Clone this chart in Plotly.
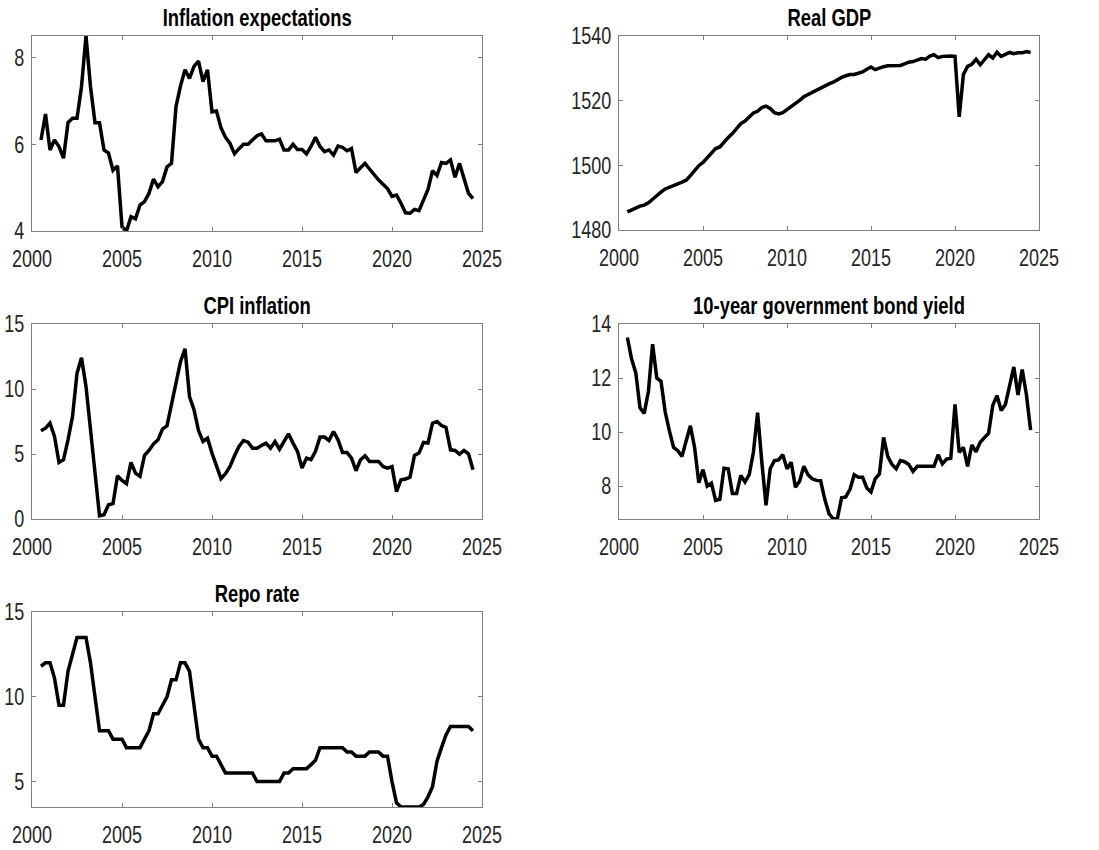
import plotly.graph_objects as go

# Quarterly observations, 2000Q3 .. 2024Q3
start_year = 2000.5
n_quarters = 97

infl_expectations = [
    6.1, 6.7, 5.87, 6.1, 5.95, 5.68, 6.5, 6.6, 6.6, 7.33,
    8.5, 7.33, 6.5, 6.5, 5.87, 5.8, 5.4, 5.5, 4.1, 4.0,
    4.33, 4.28, 4.6, 4.68, 4.87, 5.2, 5.02, 5.14, 5.48, 5.56,
    6.87, 7.35, 7.72, 7.52, 7.8, 7.92, 7.45, 7.72, 6.75, 6.77,
    6.38, 6.16, 6.02, 5.78, 5.9, 6.0, 6.0, 6.1, 6.2, 6.24,
    6.08, 6.08, 6.08, 6.12, 5.87, 5.87, 6.0, 5.88, 5.88, 5.78,
    5.95, 6.16, 5.95, 5.83, 5.87, 5.75, 5.96, 5.93, 5.85, 5.9,
    5.35, 5.46, 5.56, 5.43, 5.3, 5.18, 5.08, 4.98, 4.8, 4.83,
    4.64, 4.42, 4.41, 4.5, 4.47, 4.72, 4.96, 5.39, 5.28, 5.58,
    5.56, 5.64, 5.24, 5.56, 5.18, 4.87, 4.75,
]

real_gdp = [
    1485.6, 1486.3, 1487.0, 1487.4, 1487.7, 1488.4, 1489.5, 1490.7, 1491.7, 1492.7,
    1493.3, 1493.8, 1494.3, 1494.8, 1495.4, 1496.8, 1498.3, 1499.9, 1500.9, 1502.3,
    1504.0, 1505.2, 1505.7, 1507.3, 1508.6, 1509.8, 1511.4, 1512.9, 1513.7, 1515.0,
    1516.2, 1516.7, 1517.9, 1518.3, 1517.6, 1516.3, 1515.9, 1516.3, 1517.2, 1518.3,
    1519.1, 1520.1, 1521.2, 1521.9, 1522.4, 1523.0, 1523.7, 1524.7, 1525.2, 1525.7,
    1526.5, 1527.2, 1527.7, 1528.1, 1528.1, 1528.4, 1528.9, 1529.7, 1530.4, 1529.6,
    1530.1, 1530.5, 1530.8, 1530.9, 1530.9, 1530.9, 1531.4, 1531.9, 1532.1, 1532.6,
    1533.0, 1532.8, 1533.8, 1534.2, 1533.3, 1533.7, 1533.8, 1533.8, 1533.7, 1515.0,
    1528.1, 1530.6, 1531.2, 1532.8, 1531.1, 1532.6, 1534.2, 1533.2, 1535.0, 1533.7,
    1534.2, 1534.9, 1534.5, 1534.8, 1534.8, 1535.2, 1534.9,
]

cpi_inflation = [
    6.78, 6.99, 7.37, 6.35, 4.35, 4.56, 6.09, 7.88, 11.2, 12.4,
    10.2, 6.7, 3.4, 0.25, 0.33, 1.1, 1.18, 3.33, 2.97, 2.71,
    4.35, 3.53, 3.28, 4.89, 5.27, 5.78, 6.09, 6.91, 7.17, 8.9,
    10.4, 12.1, 13.1, 9.42, 8.4, 6.8, 5.96, 6.22, 5.07, 4.1,
    3.1, 3.48, 4.04, 4.86, 5.58, 6.04, 5.91, 5.45, 5.45, 5.66,
    5.84, 5.45, 5.96, 5.37, 5.96, 6.55, 5.84, 5.2, 3.92, 4.68,
    4.56, 5.2, 6.3, 6.3, 6.04, 6.73, 6.09, 5.12, 5.12, 4.68,
    3.71, 4.56, 4.86, 4.43, 4.43, 4.43, 4.04, 3.92, 4.04, 2.1,
    3.02, 3.07, 3.22, 4.89, 5.07, 5.89, 5.84, 7.37, 7.5, 7.19,
    7.04, 5.32, 5.27, 4.99, 5.27, 5.02, 3.79,
]

bond_yield_10y = [
    13.5, 12.7, 12.19, 10.9, 10.69, 11.5, 13.25, 12.0, 11.88, 10.74,
    10.04, 9.43, 9.31, 9.1, 9.68, 10.23, 9.43, 8.12, 8.61, 8.0,
    8.11, 7.47, 7.51, 8.66, 8.64, 7.72, 7.72, 8.39, 8.15, 8.42,
    9.25, 10.72, 8.9, 7.29, 8.64, 8.94, 8.97, 9.16, 8.64, 8.88,
    7.96, 8.18, 8.73, 8.42, 8.27, 8.21, 8.2, 7.51, 6.98, 6.78,
    6.8, 7.57, 7.6, 7.88, 8.42, 8.33, 8.33, 7.93, 7.78, 8.27,
    8.45, 9.8, 9.09, 8.8, 8.64, 8.94, 8.9, 8.8, 8.54, 8.73,
    8.73, 8.73, 8.73, 8.73, 9.16, 8.82, 9.0, 9.03, 11.02, 9.25,
    9.43, 8.73, 9.52, 9.27, 9.62, 9.8, 9.96, 10.99, 11.35, 10.8,
    11.02, 11.72, 12.41, 11.37, 12.31, 11.39, 10.07,
]

repo_rate = [
    11.8, 12.0, 12.0, 11.1, 9.5, 9.5, 11.5, 12.5, 13.5, 13.5,
    13.5, 12.0, 10.0, 8.0, 8.0, 8.0, 7.5, 7.5, 7.5, 7.0,
    7.0, 7.0, 7.0, 7.5, 8.0, 9.0, 9.0, 9.5, 10.0, 11.0,
    11.0, 12.0, 12.0, 11.5, 9.5, 7.5, 7.0, 7.0, 6.5, 6.5,
    6.0, 5.5, 5.5, 5.5, 5.5, 5.5, 5.5, 5.5, 5.0, 5.0,
    5.0, 5.0, 5.0, 5.0, 5.5, 5.5, 5.75, 5.75, 5.75, 5.75,
    6.0, 6.25, 7.0, 7.0, 7.0, 7.0, 7.0, 7.0, 6.75, 6.75,
    6.5, 6.5, 6.5, 6.75, 6.75, 6.75, 6.5, 6.5, 5.0, 3.75,
    3.5, 3.5, 3.5, 3.5, 3.5, 3.65, 4.1, 4.7, 6.2, 7.0,
    7.75, 8.25, 8.25, 8.25, 8.25, 8.25, 8.0,
]

dates = [start_year + 0.25 * i for i in range(n_quarters)]

panel_titles = [
    "Inflation expectations",
    "Real GDP",
    "CPI inflation",
    "10-year government bond yield",
    "Repo rate",
]
panel_series = [infl_expectations, real_gdp, cpi_inflation, bond_yield_10y, repo_rate]
y_ranges = [
    [min(infl_expectations), max(infl_expectations)],
    [1480, 1540],
    [0, 15],
    [min(bond_yield_10y), 14],
    [min(repo_rate), 15],
]
y_ticks = [
    [4, 6, 8],
    [1480, 1500, 1520, 1540],
    [0, 5, 10, 15],
    [8, 10, 12, 14],
    [5, 10, 15],
]
x_ticks = [2000, 2005, 2010, 2015, 2020, 2025]

W, H = 1099, 850
# Axes boxes in pixels: (left, right, top, bottom)
boxes = [
    (32, 482, 36, 231),
    (619, 1039, 36, 230),
    (32, 482, 324, 519),
    (619, 1039, 324, 519),
    (32, 482, 612, 807),
]

FONT = "Liberation Sans, Arial, Helvetica, sans-serif"
AXIS_GREY = "#808080"
TEXT_GREY = "#262626"

fig = go.Figure()
annotations = []
layout_axes = {}

for i, (title, series, yr, yt, box) in enumerate(
    zip(panel_titles, panel_series, y_ranges, y_ticks, boxes)
):
    n = "" if i == 0 else str(i + 1)
    fig.add_trace(
        go.Scatter(
            x=dates,
            y=series,
            mode="lines",
            line=dict(color="black", width=3.5),
            xaxis="x" + n,
            yaxis="y" + n,
            showlegend=False,
            hoverinfo="skip",
        )
    )
    left, right, top, bottom = box
    xdom = [left / W, right / W]
    ydom = [1 - bottom / H, 1 - top / H]
    common = dict(
        showline=True,
        linecolor=AXIS_GREY,
        linewidth=1,
        mirror="ticks",
        ticks="inside",
        ticklen=4,
        tickwidth=1,
        tickcolor=AXIS_GREY,
        showgrid=False,
        zeroline=False,
        automargin=False,
        tickfont=dict(family=FONT, size=24, color=TEXT_GREY),
        fixedrange=True,
    )
    layout_axes["xaxis" + n] = dict(
        common,
        domain=xdom,
        anchor="y" + n,
        range=[2000, 2025],
        tickvals=x_ticks,
        ticktext=[str(t) for t in x_ticks],
        ticklabelstandoff=6,
    )
    layout_axes["yaxis" + n] = dict(
        common,
        domain=ydom,
        anchor="x" + n,
        range=yr,
        tickvals=yt,
        ticktext=[str(t) for t in yt],
        ticklabelstandoff=2,
    )
    annotations.append(
        dict(
            text="<b>" + title + "</b>",
            xref="paper",
            yref="paper",
            x=(xdom[0] + xdom[1]) / 2,
            y=ydom[1],
            xanchor="center",
            yanchor="bottom",
            yshift=3,
            showarrow=False,
            font=dict(family=FONT, size=23, color="black"),
        )
    )

fig.update_layout(
    width=W,
    height=H,
    margin=dict(l=0, r=0, t=0, b=0, pad=0, autoexpand=False),
    paper_bgcolor="white",
    plot_bgcolor="white",
    annotations=annotations,
    **layout_axes,
)

# Narrow the glyphs horizontally (condensed Helvetica look), each label
# scaled about its own anchor point so positions stay put.
condense_js = """
var gd = document.getElementById('{plot_id}');
function condense(sel, s) {
  gd.querySelectorAll(sel).forEach(function (t) {
    var x = parseFloat(t.getAttribute('x')) || 0;
    var tr = t.getAttribute('transform') || '';
    t.setAttribute('transform', tr + ' translate(' + x + ',0) scale(' + s + ',1) translate(' + (-x) + ',0)');
  });
}
condense('g.xaxislayer-above text, g.yaxislayer-above text', 0.75);
condense('g.annotation text', 0.8);
"""

fig.write_html("out.html", config={"displayModeBar": False}, post_script=condense_js)
